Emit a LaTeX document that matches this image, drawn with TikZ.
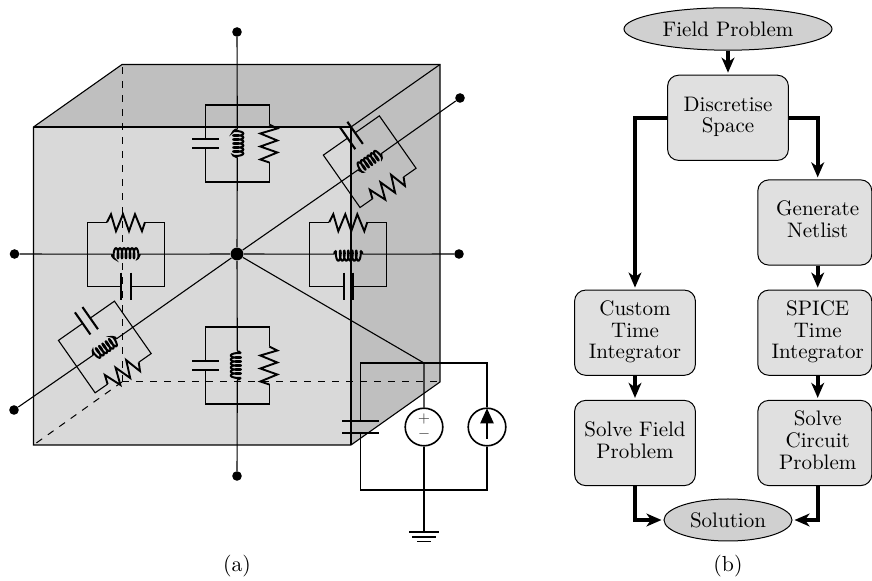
\documentclass[tikz,border=0pt]{standalone}
\usetikzlibrary{arrows.meta,shapes.geometric}
\definecolor{frontface}{HTML}{D9D9D9}
\definecolor{sideface}{HTML}{BFBFBF}
\definecolor{boxfill}{HTML}{E0E0E0}
\definecolor{ovalfill}{HTML}{D0D0D0}
\tikzset{
  wire/.style={line width=0.55pt,line join=miter},
  edgeline/.style={line width=0.55pt,line join=miter},
  hidden/.style={line width=0.5pt,dash pattern=on 3.5pt off 3.5pt},
  plate/.style={line width=1.05pt},
  zig/.style={line width=0.95pt,line join=miter},
  coilline/.style={line width=1pt},
  termdot/.style={circle,fill=black,inner sep=0pt,minimum size=4.8pt},
  hubdot/.style={circle,fill=black,inner sep=0pt,minimum size=6.4pt},
  srcdot/.style={circle,draw=black,line width=0.8pt,inner sep=0pt,minimum size=18.8pt},
  flowbox/.style={draw,line width=0.5pt,fill=boxfill,rounded corners=5.5pt,inner sep=0pt,minimum width=60.4pt,minimum height=42.6pt,
     font=\fontsize{10.5pt}{10.85pt}\selectfont},
  narrowbox/.style={flowbox,minimum width=57pt},
  oval/.style={ellipse,draw,line width=0.5pt,fill=ovalfill,inner sep=0pt,
     font=\fontsize{10.5pt}{10.85pt}\selectfont},
  flowarrow/.style={line width=2pt,line join=miter,-{Stealth[length=7.5pt,width=6.4pt,inset=2.2pt]},shorten >=1pt},
  caption/.style={font=\fontsize{10.9pt}{12pt}\selectfont,inner sep=0pt},
  signtext/.style={font=\fontsize{7pt}{8pt}\selectfont,inner sep=0pt,text=black!75}
}
% name, centre, rotation, half length of the box, coil direction, coil offset
\newcommand{\rlcblock}[6]{%
  \begin{scope}[shift={(#2)},rotate=#3]
    \draw[wire] (-19,-32) -- (-#4,-32) -- (-#4,32) -- (-4.6,32);
    \draw[wire] (4.6,32) -- (#4,32) -- (#4,-32) -- (19,-32);
    \draw[plate] (-4.6,18.5) -- (-4.6,45.5);
    \draw[plate] (4.6,18.5) -- (4.6,45.5);
    \draw[zig] (-19,-32) -- (-15,-40) -- (-10,-23) -- (-3,-40) -- (3,-23) -- (9,-40) -- (16,-23) -- (19,-32);
    \coordinate (#1-a) at (-14,0);
    \coordinate (#1-b) at (14,0);
    \draw[coilline] (#1-a) .. controls (-14,{#5*2}) .. (-12,{#5*(#6+5)})
      -- plot[domain=0:37.7,samples=240] ({-12+0.6366*\x-1.3*sin(\x r)},{#5*(#6+5*cos(\x r))})
      .. controls (14,{#5*2}) .. (#1-b);
  \end{scope}}
\begin{document}
\begin{tikzpicture}[x=0.5pt,y=-0.5pt]
\useasboundingbox (0,0) rectangle (872,581);
% cube
\fill[sideface] (33.5,127) -- (122,64.5) -- (440,64.5) -- (440,382) -- (351,445) -- (351,127) -- cycle;
\fill[frontface] (33.5,127) rectangle (351,445);
\draw[edgeline] (33.5,127) -- (122,64.5) -- (440,64.5) -- (440,382) -- (351,445) -- (33.5,445) -- cycle;
\draw[edgeline] (33.5,127) -- (351,127) -- (351,445);
\draw[edgeline] (351,127) -- (440,64.5);
\draw[hidden] (122,382) -- (122,64.5);
\draw[hidden] (122,382) -- (440,382);
\draw[hidden] (122,382) -- (33.5,445);
% terminals
\node[hubdot] (hub) at (237,254) {};
\node[termdot] (ntop) at (237,32) {};
\node[termdot] (nbot) at (237,476) {};
\node[termdot] (nleft) at (14.5,254) {};
\node[termdot] (nright) at (459,254) {};
\node[termdot] (nur) at (460,98) {};
\node[termdot] (nll) at (14,410) {};
% RLC cells
\rlcblock{T}{237.3,143.5}{-90}{38.5}{1}{-1}
\rlcblock{B}{237.3,365.5}{-90}{38.5}{-1}{-1.5}
\rlcblock{L}{126,254.2}{0}{38.5}{1}{-1}
\rlcblock{R}{348.3,254.2}{0}{38.5}{-1}{-1.5}
\rlcblock{U}{369.7,161.7}{215}{34.2}{-1}{-1}
\rlcblock{D}{104.8,347}{215}{34.2}{1}{-1}
% axes
\draw[wire] (ntop) -- (T-a) (T-b) -- (hub);
\draw[wire] (hub) -- (B-a) (B-b) -- (nbot);
\draw[wire] (nleft) -- (L-a) (L-b) -- (hub);
\draw[wire] (hub) -- (R-a) (R-b) -- (nright);
\draw[wire] (hub) -- (U-b) (U-a) -- (nur);
\draw[wire] (nll) -- (D-b) (D-a) -- (hub);
% lumped circuit
\node[srcdot] (vs) at (424,427) {};
\node[srcdot] (is) at (487,427) {};
\node[signtext] at (424,419) {$+$};
\node[signtext] at (424,434) {$-$};
\coordinate (jt) at (424,363);
\coordinate (jb) at (424,490);
\coordinate (gnd) at (424,532);
\draw[wire] (hub) -- (jt) -- (vs.north);
\draw[wire] (vs.south) -- (jb) -- (gnd);
\draw[wire] (360.5,420.7) -- (360.5,363) -- (487,363) -- (is.north);
\draw[wire] (360.5,432.7) -- (360.5,490) -- (487,490) -- (is.south);
\draw[plate] (342,420.7) -- (379,420.7);
\draw[plate] (342,432.7) -- (379,432.7);
\draw[line width=0.9pt,-{Triangle[length=7.5pt,width=6.6pt]}] (487,439) -- (487,408.3);
\draw[wire] (409,532) -- (439,532);
\draw[wire] (412,537) -- (436,537);
\draw[wire] (417,541.5) -- (431,541.5);
\node[caption] (capa) at (237,566) {(a)};
% flow chart
\node[oval,minimum width=104pt,minimum height=21.2pt] (field) at (728,29) {Field Problem};
\node[flowbox] (disc) at (728,117.8) {\begin{tabular}{@{}c@{}}Discretise\\Space\end{tabular}};
\node[narrowbox] (gen) at (814.8,222.5) {\hspace*{1.45pt}\begin{tabular}{@{}c@{}}Generate\\Netlist\end{tabular}\hspace*{-1.45pt}};
\node[flowbox] (cust) at (635,332.7) {\begin{tabular}{@{}c@{}}Custom\\Time\\Integrator\end{tabular}};
\node[narrowbox] (spice) at (814.8,332.7) {\hspace*{1.45pt}\begin{tabular}{@{}c@{}}SPICE\\Time\\Integrator\end{tabular}\hspace*{-1.45pt}};
\node[flowbox] (sfield) at (635,443) {\begin{tabular}{@{}c@{}}Solve Field\\Problem\end{tabular}};
\node[narrowbox] (scirc) at (814.8,443) {\hspace*{1.45pt}\begin{tabular}{@{}c@{}}Solve\\Circuit\\Problem\end{tabular}\hspace*{-1.45pt}};
\node[oval,minimum width=64pt,minimum height=21pt] (sol) at (728,520) {Solution};
\node[caption] (capb) at (728,566) {(b)};
\draw[flowarrow] (field) -- (disc);
\draw[flowarrow] (disc.west) -| (cust.north);
\draw[flowarrow] (disc.east) -| ([xshift=1.45pt]gen.north);
\draw[flowarrow] ([xshift=1.45pt]gen.south) -- ([xshift=1.45pt]spice.north);
\draw[flowarrow] (cust) -- (sfield);
\draw[flowarrow] ([xshift=1.45pt]spice.south) -- ([xshift=1.45pt]scirc.north);
\draw[flowarrow] (sfield.south) |- (sol.west);
\draw[flowarrow] ([xshift=1.45pt]scirc.south) |- (sol.east);
\end{tikzpicture}
\end{document}
